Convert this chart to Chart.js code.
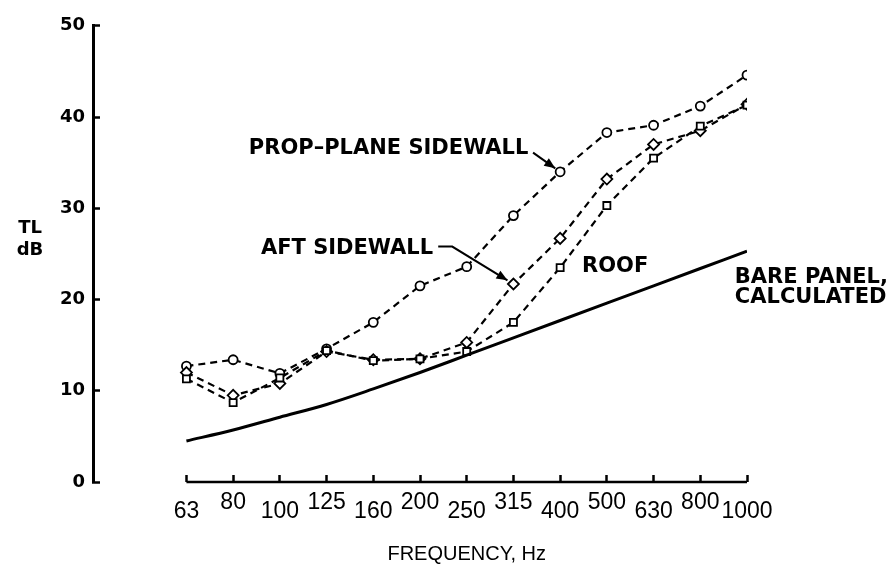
<!DOCTYPE html>
<html>
<head>
<meta charset="utf-8">
<title>Transmission loss</title>
<script src="https://cdn.jsdelivr.net/npm/chart.js@4/dist/chart.umd.min.js"></script>
<style>
  html, body { margin: 0; padding: 0; background: #ffffff; }
  #c { display: block; }
</style>
</head>
<body>
<canvas id="c" width="894" height="578"></canvas>
<script>
// One-third-octave band centre frequencies, Hz
const frequencies = ['63', '80', '100', '125', '160', '200', '250', '315', '400', '500', '630', '800', '1000'];

// Measured transmission loss, dB
const propPlaneSidewall = [12.7, 13.4, 11.9, 14.6, 17.5, 21.5, 23.6, 29.2, 34.0, 38.3, 39.1, 41.2, 44.6];
const aftSidewall       = [12.0,  9.5, 10.8, 14.3, 13.4, 13.5, 15.3, 21.7, 26.7, 33.2, 37.0, 38.5, 41.4];
const roof              = [11.3,  8.7, 11.4, 14.4, 13.3, 13.5, 14.3, 17.5, 23.5, 30.3, 35.5, 39.0, 41.3];

// Mass-law prediction for the untreated panel, dB
const barePanelCalculated = [4.5, 5.7, 7.1, 8.5, 10.2, 12.0, 13.9, 15.8, 17.7, 19.6, 21.5, 23.4, 25.3];

// Vertical axis
const tlTicks = [0, 10, 20, 30, 40, 50];

const INK = '#000000';
const LABEL_FONT = 'bold 21px "DejaVu Sans"';

const toPoints = arr => arr.map((v, i) => ({ x: i, y: v }));

function measured(label, values, style, radius) {
  return {
    label,
    data: toPoints(values),
    borderColor: INK,
    borderWidth: 2.2,
    borderDash: [7, 5],
    pointStyle: style,
    pointRadius: radius,
    pointBorderWidth: 1.8,
    pointBorderColor: INK,
    pointBackgroundColor: '#ffffff',
    tension: 0,
    fill: false
  };
}

function arrowHead(ctx, fromX, fromY, tipX, tipY) {
  const a = Math.atan2(tipY - fromY, tipX - fromX);
  const len = 11, half = 4.5;
  ctx.beginPath();
  ctx.moveTo(tipX, tipY);
  ctx.lineTo(tipX - len * Math.cos(a) + half * Math.sin(a), tipY - len * Math.sin(a) - half * Math.cos(a));
  ctx.lineTo(tipX - len * Math.cos(a) - half * Math.sin(a), tipY - len * Math.sin(a) + half * Math.cos(a));
  ctx.closePath();
  ctx.fill();
}

// Leader from a label to a data point: path given in (band index, dB), ending just short of the marker
function leader(ctx, x, y, path, target, gap) {
  const pts = path.map(([i, v]) => [x.getPixelForValue(i), y.getPixelForValue(v)]);
  const cx = x.getPixelForValue(target[0]);
  const cy = y.getPixelForValue(target[1]);
  const [lx, ly] = pts[pts.length - 1];
  const d = Math.hypot(cx - lx, cy - ly);
  const tipX = cx - (cx - lx) / d * gap;
  const tipY = cy - (cy - ly) / d * gap;
  ctx.beginPath();
  ctx.moveTo(pts[0][0], pts[0][1]);
  for (let k = 1; k < pts.length; k++) ctx.lineTo(pts[k][0], pts[k][1]);
  ctx.lineTo(tipX, tipY);
  ctx.stroke();
  arrowHead(ctx, lx, ly, tipX, tipY);
}

const decorations = {
  id: 'decorations',
  afterDraw(chart) {
    const { ctx, scales: { x, y }, chartArea } = chart;
    ctx.save();
    ctx.strokeStyle = INK;
    ctx.fillStyle = INK;

    // frequency axis line, spanning the bands only
    ctx.lineWidth = 2.5;
    ctx.beginPath();
    ctx.moveTo(x.getPixelForValue(0), y.getPixelForValue(0));
    ctx.lineTo(x.getPixelForValue(frequencies.length - 1), y.getPixelForValue(0));
    ctx.stroke();

    // axis titles
    ctx.textAlign = 'center';
    ctx.textBaseline = 'middle';
    ctx.font = 'bold 18px "DejaVu Sans"';
    ctx.fillText('TL', chartArea.left - 63, y.getPixelForValue(27.8));
    ctx.fillText('dB', chartArea.left - 63, y.getPixelForValue(25.4));
    ctx.font = '20px "Liberation Sans"';
    ctx.fillText('FREQUENCY, Hz', x.getPixelForValue((frequencies.length - 1) / 2), y.getPixelForValue(0) + 72);

    // curve labels
    ctx.font = LABEL_FONT;
    ctx.textAlign = 'right';
    ctx.fillText('PROP\u2013PLANE SIDEWALL', x.getPixelForValue(7.32), y.getPixelForValue(36.6));
    ctx.fillText('AFT SIDEWALL', x.getPixelForValue(5.28), y.getPixelForValue(25.6));
    ctx.textAlign = 'left';
    ctx.fillText('ROOF', x.getPixelForValue(8.47), y.getPixelForValue(23.6));
    ctx.fillText('BARE PANEL,', x.getPixelForValue(11.74), y.getPixelForValue(22.4));
    ctx.fillText('CALCULATED', x.getPixelForValue(11.74), y.getPixelForValue(20.2));

    // leaders
    ctx.lineWidth = 2;
    leader(ctx, x, y, [[7.42, 36.1]], [8, propPlaneSidewall[8]], 6);
    leader(ctx, x, y, [[5.39, 25.8], [5.69, 25.8]], [7, aftSidewall[7]], 7);

    ctx.restore();
  }
};

new Chart(document.getElementById('c'), {
  type: 'line',
  data: {
    datasets: [
      {
        label: 'Bare panel, calculated',
        data: toPoints(barePanelCalculated),
        borderColor: INK,
        borderWidth: 3,
        pointRadius: 0,
        cubicInterpolationMode: 'monotone',
        fill: false
      },
      measured('Roof', roof, 'rect', 5),
      measured('Aft sidewall', aftSidewall, 'rectRot', 5.5),
      measured('Prop-plane sidewall', propPlaneSidewall, 'circle', 4.5)
    ]
  },
  options: {
    responsive: false,
    animation: false,
    devicePixelRatio: 1,
    layout: { padding: { left: 0, right: 147, top: 15, bottom: 0 } },
    plugins: {
      legend: { display: false },
      tooltip: { enabled: false },
      title: { display: false }
    },
    scales: {
      x: {
        type: 'linear',
        min: -2,
        max: frequencies.length - 1,
        afterBuildTicks: s => { s.ticks = frequencies.map((f, i) => ({ value: i })); },
        afterFit: s => { s.height = 96; },
        border: { display: false },
        grid: {
          drawOnChartArea: false,
          drawTicks: true,
          tickLength: -7,
          tickWidth: 2.5,
          tickColor: INK
        },
        ticks: {
          autoSkip: false,
          maxRotation: 0,
          minRotation: 0,
          padding: 23.5,
          color: INK,
          font: { family: 'Liberation Sans', size: 23, lineHeight: '9px' },
          // alternate bands sit one step lower
          callback: v => (v % 2 === 0 ? ['', frequencies[v]] : frequencies[v])
        }
      },
      y: {
        min: 0,
        max: 50,
        afterBuildTicks: s => { s.ticks = tlTicks.map(v => ({ value: v })); },
        afterFit: s => { s.width = 93; },
        border: { display: true, color: INK, width: 3 },
        grid: {
          drawOnChartArea: false,
          drawTicks: true,
          tickLength: -7,
          tickWidth: 2.5,
          tickColor: INK
        },
        ticks: {
          padding: 15,
          color: INK,
          font: { family: 'DejaVu Sans', weight: 'bold', size: 18 }
        }
      }
    }
  },
  plugins: [decorations]
});
</script>
</body>
</html>
